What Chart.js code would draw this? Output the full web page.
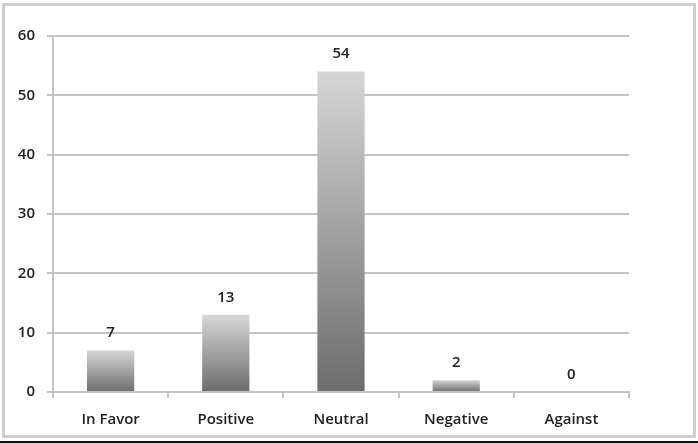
<!DOCTYPE html>
<html>
<head>
<meta charset="utf-8">
<script src="https://cdn.jsdelivr.net/npm/chart.js@4"></script>
<style>
  html, body { margin: 0; padding: 0; background: #fff; }
  #wrap { position: relative; width: 698px; height: 443px; }
  #frame {
    position: absolute; left: 2px; top: 3px; width: 688px; height: 429px;
    border: 3px solid #cfcfcf; box-sizing: content-box;
  }
  #rule { position: absolute; left: 0; top: 441px; width: 698px; height: 2px; background: #111; }
  canvas { position: absolute; left: 0; top: 0; }
</style>
</head>
<body>
<div id="wrap">
  <div id="frame"></div>
  <div id="rule"></div>
  <canvas id="c" width="698" height="443"></canvas>
</div>
<script>
const categories = ['In Favor', 'Positive', 'Neutral', 'Negative', 'Against'];
const counts = [7, 13, 54, 2, 0];
const yTicks = [0, 10, 20, 30, 40, 50, 60];

const FONT = { family: '"Open Sans", "Liberation Sans", sans-serif', size: 15, weight: '600' };
const TEXT = '#222';
const GRID = '#c4c4c4';

// Each bar shades from light grey at its top to dark grey at its base.
function barGradient(ctx) {
  const chart = ctx.chart;
  if (!chart.chartArea || ctx.parsed === undefined) return '#999';
  const y = chart.scales.y;
  const top = y.getPixelForValue(ctx.parsed.y);
  const base = y.getPixelForValue(0);
  if (Math.abs(base - top) < 1) return '#999';
  const g = chart.ctx.createLinearGradient(0, top, 0, base);
  g.addColorStop(0, '#d6d6d6');
  g.addColorStop(1, '#6c6c6c');
  return g;
}

// Writes each count above its bar.
const valueLabels = {
  id: 'valueLabels',
  afterDatasetsDraw(chart) {
    const c = chart.ctx;
    const meta = chart.getDatasetMeta(0);
    c.save();
    c.font = FONT.weight + ' ' + FONT.size + 'px ' + FONT.family;
    c.fillStyle = TEXT;
    c.textAlign = 'center';
    c.textBaseline = 'bottom';
    meta.data.forEach((bar, i) => {
      c.fillText(String(counts[i]), bar.x, bar.y - 10);
    });
    c.restore();
  }
};

new Chart(document.getElementById('c'), {
  type: 'bar',
  data: {
    labels: categories,
    datasets: [{
      data: counts,
      backgroundColor: barGradient,
      borderWidth: 0,
      categoryPercentage: 1,
      barPercentage: 0.41
    }]
  },
  options: {
    responsive: false,
    animation: false,
    events: [],
    layout: { padding: { left: 0, right: 69, top: 36, bottom: 0 } },
    plugins: { legend: { display: false }, tooltip: { enabled: false } },
    scales: {
      x: {
        grid: {
          display: true, drawOnChartArea: false, drawTicks: true,
          tickLength: 6, color: GRID, lineWidth: 2, offset: true
        },
        border: { display: true, color: GRID, width: 2 },
        ticks: { font: FONT, color: TEXT, padding: 13 },
        afterFit(scale) { scale.height = 51; }
      },
      y: {
        min: 0, max: 60,
        afterBuildTicks(scale) { scale.ticks = yTicks.map(v => ({ value: v })); },
        grid: { color: GRID, lineWidth: 2, tickLength: 6 },
        border: { display: true, color: GRID, width: 2 },
        ticks: { font: FONT, color: TEXT, padding: 12 },
        afterFit(scale) { scale.width = 53; }
      }
    }
  },
  plugins: [valueLabels]
});
</script>
</body>
</html>
